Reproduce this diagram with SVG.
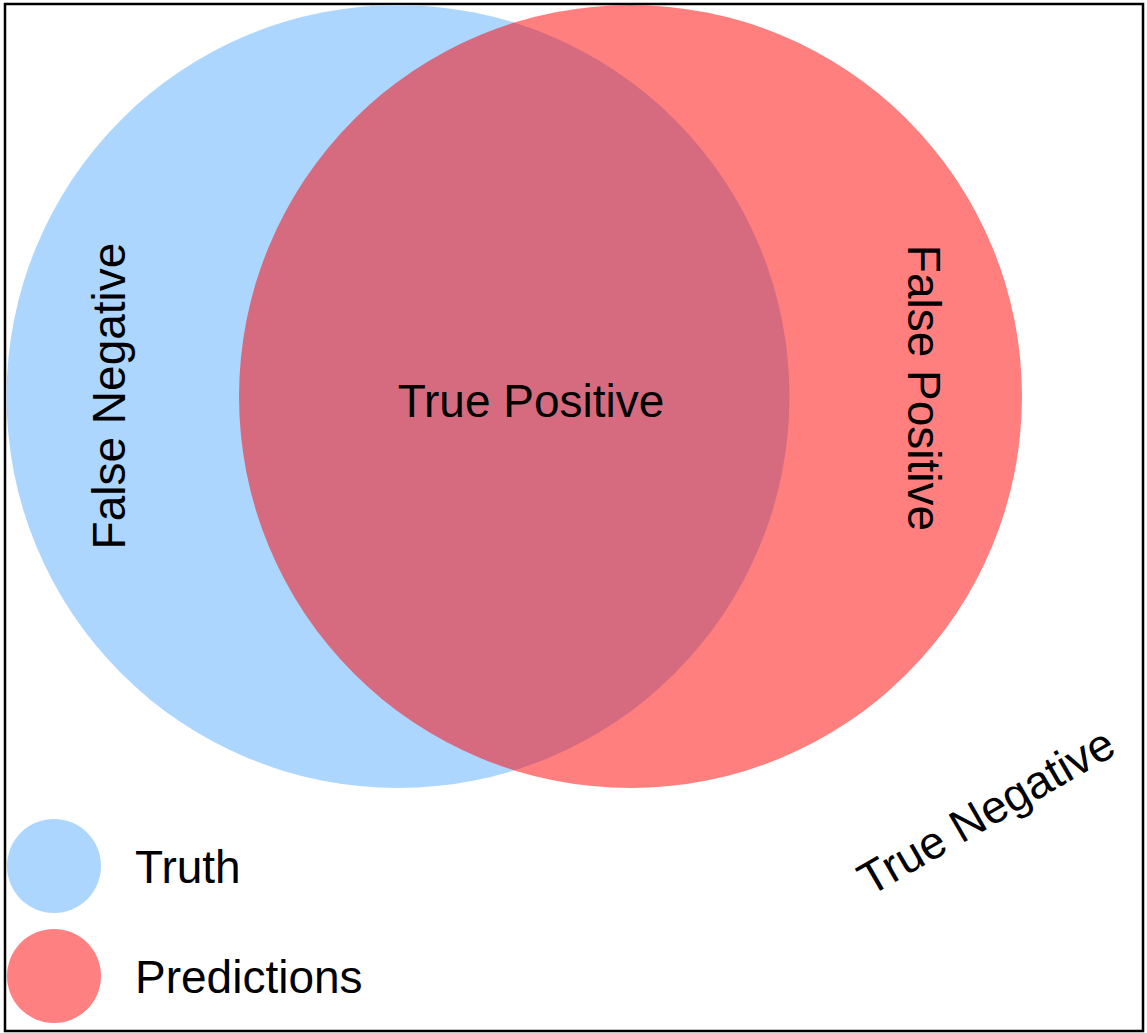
<svg xmlns="http://www.w3.org/2000/svg" width="1147" height="1033" viewBox="0 0 1147 1033">
  <style>
    .lbl { font-family: "Liberation Sans", Arial, sans-serif; font-size: 46px; fill: #000000; }
    .truth { fill: #ADD6FF; }
    .pred { fill: #FF0000; fill-opacity: 0.5; }
    .predSolid { fill: #FF8080; }
  </style>
  <rect x="0" y="0" width="1147" height="1033" fill="#FFFFFF"/>
  <rect x="5" y="4" width="1138" height="1027" fill="none" stroke="#000000" stroke-width="2.5"/>
  <g id="truth-set">
    <circle class="truth" cx="398" cy="396.5" r="391.5"/>
  </g>
  <g id="prediction-set">
    <circle class="pred" cx="630.5" cy="396.5" r="391.5"/>
  </g>
  <g id="false-negative">
    <text class="lbl" text-anchor="middle" transform="translate(125 396) rotate(-90)">False Negative</text>
  </g>
  <g id="true-positive">
    <text class="lbl" x="531" y="417" text-anchor="middle">True Positive</text>
  </g>
  <g id="false-positive">
    <text class="lbl" text-anchor="middle" transform="translate(908 388) rotate(90)">False Positive</text>
  </g>
  <g id="true-negative">
    <text class="lbl" text-anchor="middle" transform="translate(994 825) rotate(-30)">True Negative</text>
  </g>
  <g id="legend-truth">
    <circle class="truth" cx="54" cy="866" r="47"/>
    <text class="lbl" x="135" y="883">Truth</text>
  </g>
  <g id="legend-predictions">
    <circle class="predSolid" cx="54" cy="976" r="47"/>
    <text class="lbl" x="135" y="993">Predictions</text>
  </g>
  <g id="connectors"></g>
</svg>
